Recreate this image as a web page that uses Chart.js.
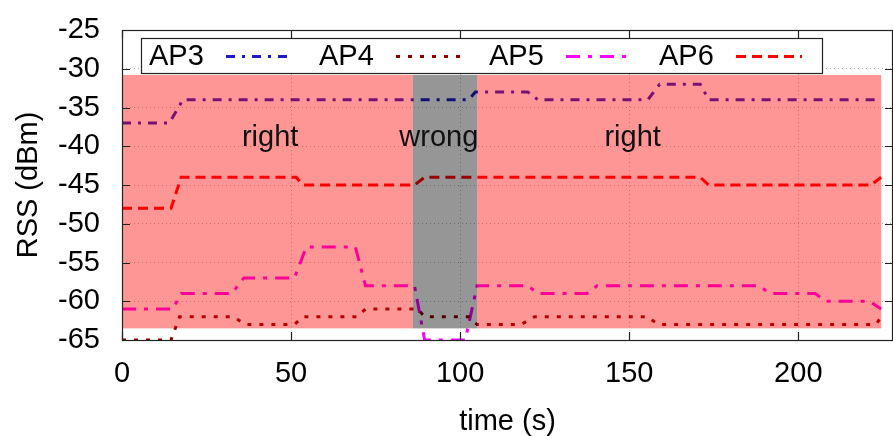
<!DOCTYPE html>
<html>
<head>
<meta charset="utf-8">
<script src="https://cdn.jsdelivr.net/npm/chart.js@4.4.1/dist/chart.umd.min.js"></script>
<style>
body{margin:0;background:#fff;}
canvas{display:block;}
</style>
</head>
<body>
<canvas id="chartRss" width="893" height="436"></canvas>
<script>

/* DATA */

let seriesNames = ["AP3","AP4","AP5","AP6"];

let ap3Time = [0,14,18,102.5,104.5,120,123,155.5,159,171,173.5,224.5];
let ap3Rss  = [-37,-37,-34,-34,-33,-33,-34,-34,-32,-32,-34,-34];

let ap4Time = [0,14.5,17,33,36.5,51,53.5,69.5,72,87.5,89.5,102.5,105,118,122,155.5,158.5,223,224.5];
let ap4Rss  = [-65,-65,-62,-62,-63,-63,-62,-62,-61,-61,-62,-62,-63,-63,-62,-62,-63,-63,-62];

let ap5Time = [0,15,17.5,32.5,36,51,54.5,69,72,86.5,89.5,101.5,105,120,123,137.5,140.5,188.5,191.5,205,208,221,224.5];
let ap5Rss  = [-61,-61,-59,-59,-57,-57,-53,-53,-58,-58,-65,-65,-58,-58,-59,-59,-58,-58,-59,-59,-60,-60,-61];

let ap6Time = [0,14.5,17.5,51.5,53.5,86.5,89.5,171,173.5,221.5,224.5];
let ap6Rss  = [-48,-48,-44,-44,-45,-45,-44,-44,-45,-45,-44];

let xTicks = [0,50,100,150,200];
let yTicks = [-65,-60,-55,-50,-45,-40,-35,-30,-25];

/* zones : right / wrong / right */
let zoneStart = [0,86,105];
let zoneEnd   = [86,105,224.5];
let zoneLabel = ["right","wrong","right"];
let zoneTop = -30.8;
let zoneBottom = -63.5;
let labelX = [43.8,93.7,151];
let labelY = -38.9;

/* STYLES */

let colors = ["#1c1cc8","#8a0000","#ff00ff","#ff0000"];
let dashes = [[9,7,3,7],[4,8],[14,8,4,8],[10,6]];
let fontFamily = "'Liberation Sans', Arial, Helvetica, sans-serif";

function toPoints(times,values){
return times.map((t,i)=>({x:t,y:values[i]}));
}

let allSeries = [
toPoints(ap3Time,ap3Rss),
toPoints(ap4Time,ap4Rss),
toPoints(ap5Time,ap5Rss),
toPoints(ap6Time,ap6Rss)
];

let datasets = allSeries.map((pts,i)=>({
label:seriesNames[i],
data:pts,
borderColor:colors[i],
backgroundColor:colors[i],
borderWidth:3,
borderDash:dashes[i],
borderCapStyle:"butt",
pointRadius:0,
tension:0,
fill:false
}));

/* overlay zones, labels, legend box, frame */

let overlayPlugin = {
id:"overlay",
afterDatasetsDraw(chart){
let ctx=chart.ctx;
let xs=chart.scales.x, ys=chart.scales.y;
ctx.save();
zoneLabel.forEach((kind,i)=>{
let x0=xs.getPixelForValue(zoneStart[i]);
let x1=xs.getPixelForValue(zoneEnd[i]);
let y0=ys.getPixelForValue(zoneTop);
let y1=ys.getPixelForValue(zoneBottom);
ctx.fillStyle = kind==="wrong" ? "rgba(0,0,0,0.41)" : "rgba(255,0,0,0.41)";
ctx.fillRect(x0,y0,x1-x0,y1-y0);
});
ctx.fillStyle="#111";
ctx.font="29px "+fontFamily;
ctx.textAlign="center";
ctx.textBaseline="middle";
zoneLabel.forEach((kind,i)=>{
ctx.fillText(kind,xs.getPixelForValue(labelX[i]),ys.getPixelForValue(labelY));
});
ctx.restore();
},
afterDraw(chart){
let ctx=chart.ctx;
let a=chart.chartArea;
let xs=chart.scales.x, ys=chart.scales.y;
ctx.save();

/* frame */
ctx.strokeStyle="#222";
ctx.lineWidth=1.2;
ctx.setLineDash([]);
ctx.strokeRect(a.left+0.5,a.top+0.5,a.right-a.left-1,a.bottom-a.top);

/* inward ticks, mirrored */
let tl=8;
ctx.beginPath();
xTicks.forEach(v=>{
let px=Math.round(xs.getPixelForValue(v))+0.5;
ctx.moveTo(px,a.bottom); ctx.lineTo(px,a.bottom-tl);
ctx.moveTo(px,a.top); ctx.lineTo(px,a.top+tl);
});
yTicks.forEach(v=>{
let py=Math.round(ys.getPixelForValue(v))+0.5;
ctx.moveTo(a.left,py); ctx.lineTo(a.left+tl,py);
ctx.moveTo(a.right,py); ctx.lineTo(a.right-tl,py);
});
ctx.stroke();

/* legend box */
let bx=a.left+19, by=a.top+8, bw=681, bh=35;
ctx.fillStyle="#fff";
ctx.fillRect(bx,by,bw,bh);
ctx.strokeStyle="#222";
ctx.lineWidth=1.2;
ctx.strokeRect(bx+0.5,by+0.5,bw,bh);

ctx.font="29px "+fontFamily;
ctx.textAlign="left";
ctx.textBaseline="middle";
let cy=by+bh/2+1;
chart.data.datasets.forEach((ds,i)=>{
let tx=bx+8+170*i;
ctx.fillStyle="#000";
ctx.fillText(ds.label,tx,cy);
ctx.strokeStyle=ds.borderColor;
ctx.lineWidth=ds.borderWidth;
ctx.setLineDash(ds.borderDash);
ctx.beginPath();
ctx.moveTo(tx+77,cy);
ctx.lineTo(tx+143,cy);
ctx.stroke();
});

ctx.restore();
}
};

new Chart(document.getElementById("chartRss"),{

type:"line",

data:{datasets:datasets},

plugins:[overlayPlugin],

options:{
responsive:false,
animation:false,
devicePixelRatio:1,
layout:{padding:{top:30,right:0,left:0,bottom:0}},

plugins:{
legend:{display:false},
tooltip:{enabled:false}
},

scales:{
x:{
type:"linear",
min:0,
max:228,
afterBuildTicks:s=>{s.ticks=xTicks.map(v=>({value:v}));},
afterFit:s=>{s.height=96;s.paddingLeft=0;s.paddingRight=0;},
grid:{color:"#b4b4b4",lineWidth:1,drawTicks:false},
border:{display:false,dash:[1,3]},
ticks:{
color:"#000",
padding:17,
maxRotation:0,
autoSkip:false,
font:{family:fontFamily,size:29}
},
title:{
display:true,
text:"time (s)",
color:"#000",
padding:{top:0,bottom:0},
font:{family:fontFamily,size:29,lineHeight:1}
}
},

y:{
type:"linear",
min:-65,
max:-25,
afterBuildTicks:s=>{s.ticks=yTicks.map(v=>({value:v}));},
afterFit:s=>{s.width=122;s.paddingTop=0;s.paddingBottom=0;},
grid:{color:"#b4b4b4",lineWidth:1,drawTicks:false},
border:{display:false,dash:[1,3]},
ticks:{
color:"#000",
padding:22,
autoSkip:false,
font:{family:fontFamily,size:29}
},
title:{
display:true,
text:"RSS (dBm)",
color:"#000",
padding:{top:12,bottom:0},
font:{family:fontFamily,size:29,lineHeight:1.2}
}
}
}
}

});

</script>
</body>
</html>
